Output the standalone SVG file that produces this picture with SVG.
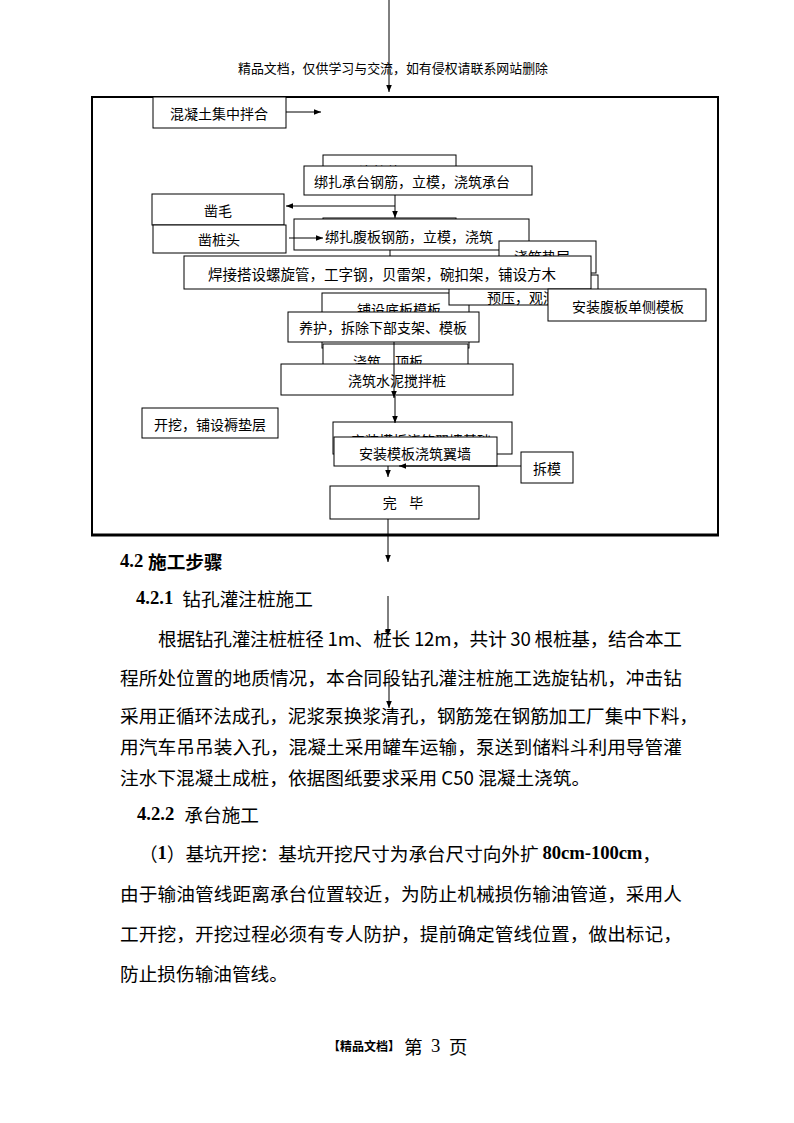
<svg xmlns="http://www.w3.org/2000/svg" width="794" height="1123" viewBox="0 0 794 1123">
<defs>
<marker id="ah" viewBox="0 0 10 10" refX="10" refY="5" markerWidth="7" markerHeight="7" markerUnits="userSpaceOnUse" orient="auto"><path d="M0,1 L10,5 L0,9 z" fill="#000"/></marker>
<style>
.b{fill:#fff;stroke:#000;stroke-width:1}
.t{font-family:"Noto Sans CJK SC",sans-serif;font-size:14px;fill:#000;text-anchor:middle;dominant-baseline:central}
.c{stroke:#000;stroke-width:1;fill:none}
.p{font-family:"Liberation Serif","Noto Sans CJK SC",serif;font-size:18.67px;fill:#000;dominant-baseline:central}
.bd{font-weight:bold;font-family:"Liberation Serif","Noto Sans CJK SC",serif}
</style>
</defs>
<rect width="794" height="1123" fill="#fff"/>
<text x="238" y="67" textLength="310" lengthAdjust="spacingAndGlyphs" style="font-family:'Noto Sans CJK SC',sans-serif;font-size:13px;dominant-baseline:central">精品文档，仅供学习与交流，如有侵权请联系网站删除</text>
<g id="frame">
<rect x="92" y="97" width="626" height="438" fill="none" stroke="#000" stroke-width="2"/>
<line x1="91" y1="535" x2="719" y2="535" stroke="#000" stroke-width="3"/>
</g>
<g id="n-mix"><rect class="b" x="153" y="97" width="133" height="31"/><text class="t" x="219" y="113">混凝土集中拌合</text></g>
<g id="n-hidden1"><rect class="b" x="323" y="155" width="133" height="30"/><text class="t" x="387" y="171">浇筑垫层</text></g>
<g id="n-chengtai"><rect class="b" x="304" y="166" width="228" height="29"/><text class="t" x="412" y="181">绑扎承台钢筋，立模，浇筑承台</text></g>
<g id="n-zaomao"><rect class="b" x="152" y="194" width="132" height="31"/><text class="t" x="218" y="210">凿毛</text></g>
<g id="n-zaozhuangtou"><rect class="b" x="153" y="225" width="133" height="28"/><text class="t" x="219" y="239">凿桩头</text></g>
<g id="n-hidden2"><rect class="b" x="323" y="218" width="133" height="30"/></g>
<g id="n-fuban"><rect class="b" x="294" y="219" width="235" height="31"/><text class="t" x="409" y="236">绑扎腹板钢筋，立模，浇筑</text></g>
<g id="n-dianceng"><rect class="b" x="499" y="241" width="97" height="32"/><text class="t" x="542" y="256">浇筑垫层</text></g>
<g id="n-puse"><rect class="b" x="322" y="293" width="147" height="55"/><text class="t" x="399" y="309">铺设底板模板</text></g>
<g id="n-yuya"><rect class="b" x="449" y="275" width="149" height="30"/><text class="t" x="487" y="297" style="text-anchor:start">预压，观测沉降</text></g>
<g id="n-hanjie"><rect class="b" x="184" y="256" width="407" height="33"/><text class="t" x="382" y="273" style="font-size:14.5px">焊接搭设螺旋管，工字钢，贝雷架，碗扣架，铺设方木</text></g>
<g id="n-cemo"><rect class="b" x="548" y="289" width="158" height="32"/><text class="t" x="628" y="306">安装腹板单侧模板</text></g>
<g id="n-yanghu"><rect class="b" x="288" y="312" width="191" height="30"/><text class="t" x="383" y="327">养护，拆除下部支架、模板</text></g>
<g id="n-dingban"><rect class="b" x="323" y="344" width="145" height="30"/><text class="t" x="388" y="361">浇筑，顶板</text></g>
<g id="n-jiaobanzhuang"><rect class="b" x="281" y="364" width="232" height="31"/><text class="t" x="397" y="380">浇筑水泥搅拌桩</text></g>
<g id="n-kaiwa"><rect class="b" x="142" y="408" width="136" height="30"/><text class="t" x="210" y="424">开挖，铺设褥垫层</text></g>
<g id="n-yiqiangjichu"><rect class="b" x="333" y="422" width="179" height="32"/><text class="t" x="421" y="440">安装模板浇筑翼墙基础</text></g>
<g id="n-yiqiang"><rect class="b" x="334" y="437" width="163" height="29"/><text class="t" x="415" y="453">安装模板浇筑翼墙</text></g>
<g id="n-chaimo"><rect class="b" x="521" y="452" width="52" height="31"/><text class="t" x="547" y="468">拆模</text></g>
<g id="n-wanbi"><rect class="b" x="330" y="486" width="149" height="33"/><text class="t" x="403" y="502" xml:space="preserve">完    毕</text></g>
<g id="connectors">
<path class="c" d="M389,0 V92" marker-end="url(#ah)"/>
<path class="c" d="M286,112 H321" marker-end="url(#ah)"/>
<path class="c" d="M395,195 V218" marker-end="url(#ah)"/>
<path class="c" d="M395,206 H286" marker-end="url(#ah)"/>
<path class="c" d="M289,238 H323" marker-end="url(#ah)"/>
<path class="c" d="M390,250 V256"/>
<path class="c" d="M394,342 V398" marker-end="url(#ah)"/>
<path class="c" d="M395,396 V423" stroke-width="2" marker-end="url(#ah)"/>
<path class="c" d="M521,466 H399" marker-end="url(#ah)"/>
<path class="c" d="M388,466 V477" marker-end="url(#ah)"/>
<path class="c" d="M388,519 V562" marker-end="url(#ah)"/>
<path class="c" d="M388,596 V636" marker-end="url(#ah)"/>
<path class="c" d="M389,676 V708" marker-end="url(#ah)"/>
</g>
<g id="body">
<text class="p" x="120" y="560" font-weight="bold"><tspan class="bd">4.2 </tspan><tspan style="font-family:'Noto Sans CJK SC',sans-serif">施工步骤</tspan></text>
<text class="p" x="136" y="597"><tspan class="bd">4.2.1</tspan><tspan style="font-family:'Noto Sans CJK SC',sans-serif" dx="9">钻孔灌注桩施工</tspan></text>
<text class="p" x="158" y="637" textLength="524" lengthAdjust="spacing" style="font-family:'Noto Sans CJK SC',sans-serif">根据钻孔灌注桩桩径 1m、桩长 12m，共计 30 根桩基，结合本工</text>
<text class="p" x="120" y="676" textLength="562" lengthAdjust="spacing" style="font-family:'Noto Sans CJK SC',sans-serif">程所处位置的地质情况，本合同段钻孔灌注桩施工选旋钻机，冲击钻</text>
<text class="p" x="120" y="714" textLength="578" lengthAdjust="spacing" style="font-family:'Noto Sans CJK SC',sans-serif">采用正循环法成孔，泥浆泵换浆清孔，钢筋笼在钢筋加工厂集中下料，</text>
<text class="p" x="120" y="745" textLength="562" lengthAdjust="spacing" style="font-family:'Noto Sans CJK SC',sans-serif">用汽车吊吊装入孔，混凝土采用罐车运输，泵送到储料斗利用导管灌</text>
<text class="p" x="120" y="776" style="font-family:'Noto Sans CJK SC',sans-serif">注水下混凝土成桩，依据图纸要求采用 C50 混凝土浇筑。</text>
<text class="p" x="137" y="813"><tspan class="bd">4.2.2</tspan><tspan style="font-family:'Noto Sans CJK SC',sans-serif" dx="10">承台施工</tspan></text>
<text class="p" x="139" y="852" textLength="522" lengthAdjust="spacing" style="font-family:'Noto Sans CJK SC',sans-serif">（<tspan class="bd">1</tspan>）基坑开挖：基坑开挖尺寸为承台尺寸向外扩 <tspan class="bd">80cm-100cm</tspan>，</text>
<text class="p" x="120" y="892" textLength="562" lengthAdjust="spacing" style="font-family:'Noto Sans CJK SC',sans-serif">由于输油管线距离承台位置较近，为防止机械损伤输油管道，采用人</text>
<text class="p" x="120" y="932" textLength="562" lengthAdjust="spacing" style="font-family:'Noto Sans CJK SC',sans-serif">工开挖，开挖过程必须有专人防护，提前确定管线位置，做出标记，</text>
<text class="p" x="120" y="972" style="font-family:'Noto Sans CJK SC',sans-serif">防止损伤输油管线。</text>
</g>
<g id="footer">
<text x="328" y="1045" style="font-family:'Noto Sans CJK SC',sans-serif;font-size:12px;font-weight:bold;dominant-baseline:central">【精品文档】</text>
<text x="404" y="1045" style="font-family:'Noto Sans CJK SC',sans-serif;font-size:18.67px;dominant-baseline:central" xml:space="preserve">第  <tspan style="font-family:'Liberation Serif'">3</tspan>  页</text>
</g>
</svg>
